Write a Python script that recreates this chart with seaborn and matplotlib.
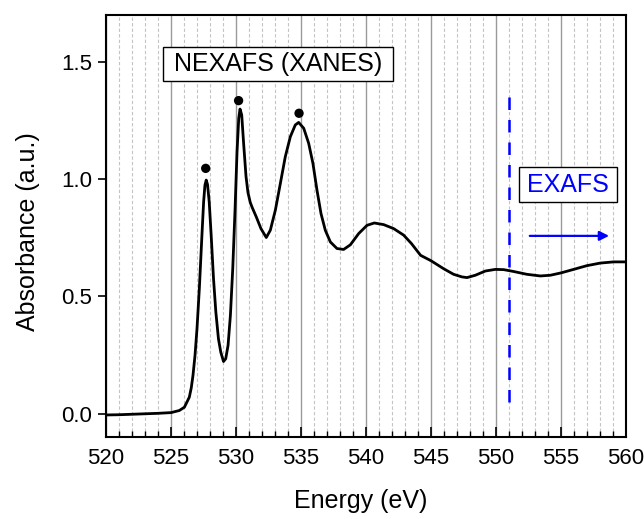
import matplotlib
matplotlib.use("Agg")
import matplotlib.pyplot as plt
import seaborn as sns
import pandas as pd
from matplotlib.patches import Rectangle
from matplotlib.ticker import MultipleLocator, FormatStrFormatter

# O K-edge absorption spectrum (energy in eV, absorbance in a.u.)
energy = [520.0, 521.0, 522.0, 523.0, 524.0, 525.0, 525.64, 526.03, 526.41, 526.56,
          526.69, 526.85, 527.0, 527.18, 527.38, 527.51, 527.61, 527.71, 527.81, 527.94,
          528.09, 528.27, 528.45, 528.65, 528.83, 529.04, 529.21, 529.39, 529.57, 529.75,
          529.93, 530.08, 530.21, 530.31, 530.44, 530.59, 530.77, 530.92, 531.1, 531.27,
          531.56, 531.92, 532.33, 532.64, 533.03, 533.41, 533.79, 534.18, 534.56, 534.82,
          535.21, 535.59, 535.92, 536.23, 536.54, 536.87, 537.26, 537.77, 538.28, 538.8,
          539.44, 540.08, 540.64, 541.36, 542.13, 542.9, 543.5, 544.2, 545.0, 545.97,
          546.74, 547.38, 547.77, 548.41, 549.18, 549.95, 550.59, 551.36, 552.38, 553.41,
          554.18, 555.0, 555.97, 557.0, 558.03, 559.05, 560.0]
absorbance = [-0.006, -0.005, -0.003, -0.001, 0.001, 0.004, 0.013, 0.027, 0.07, 0.11,
              0.162, 0.25, 0.362, 0.533, 0.761, 0.903, 0.974, 0.996, 0.977, 0.903,
              0.761, 0.576, 0.433, 0.319, 0.262, 0.222, 0.234, 0.291, 0.419, 0.618,
              0.875, 1.117, 1.259, 1.299, 1.274, 1.150, 1.012, 0.943, 0.90, 0.876,
              0.839, 0.789, 0.751, 0.782, 0.868, 0.981, 1.095, 1.181, 1.231, 1.242,
              1.217, 1.153, 1.067, 0.953, 0.853, 0.782, 0.732, 0.704, 0.700, 0.720,
              0.768, 0.803, 0.813, 0.806, 0.789, 0.761, 0.725, 0.675, 0.652, 0.618,
              0.594, 0.583, 0.580, 0.590, 0.608, 0.615, 0.614, 0.606, 0.594, 0.587,
              0.590, 0.600, 0.615, 0.631, 0.642, 0.647, 0.647]

# Marked resonance peaks
peak_energy = [527.67, 530.2, 534.85]
peak_height = [1.046, 1.335, 1.281]

# Boundary between the near-edge and extended regions
edge_split = 551.0

sns.set_theme(style="ticks")
plt.rcParams["font.family"] = ["Liberation Sans", "DejaVu Sans"]
plt.rcParams.update({"text.color": "black", "axes.labelcolor": "black",
                     "xtick.color": "black", "ytick.color": "black"})

spectrum = pd.DataFrame({"Energy": energy, "Absorbance": absorbance})
peaks = pd.DataFrame({"Energy": peak_energy, "Absorbance": peak_height})

fig = plt.figure(figsize=(6.44, 5.19), dpi=100)
ax = fig.add_axes([0.1646, 0.158, 0.8074, 0.813])

sns.lineplot(data=spectrum, x="Energy", y="Absorbance", ax=ax, color="black",
             linewidth=2.0, sort=False, zorder=3, solid_joinstyle="round",
             solid_capstyle="round")
sns.scatterplot(data=peaks, x="Energy", y="Absorbance", ax=ax, color="black",
                s=45, edgecolor="none", zorder=4)

ax.vlines(edge_split, 0.05, 1.37, colors="#0000FF", linestyles=(0, (5, 4)),
          linewidth=1.8, zorder=3)
ax.annotate("", xy=(558.7, 0.758), xytext=(552.6, 0.758),
            arrowprops=dict(arrowstyle="-|>", color="#0000FF", lw=1.6,
                            mutation_scale=14, shrinkA=0, shrinkB=0))

# Framed region labels
ax.add_patch(Rectangle((524.38, 1.419), 17.70, 0.145, facecolor="white",
                       edgecolor="black", linewidth=1.0, zorder=5))
ax.text(533.23, 1.4915, "NEXAFS (XANES)", fontsize=18, ha="center",
        va="center", zorder=6)
ax.add_patch(Rectangle((551.77, 0.902), 7.54, 0.149, facecolor="white",
                       edgecolor="black", linewidth=1.0, zorder=5))
ax.text(555.54, 0.9765, "EXAFS", fontsize=18, color="#0000FF", ha="center",
        va="center", zorder=6)

ax.set_xlim(520, 560)
ax.set_ylim(-0.10, 1.70)
ax.xaxis.set_major_locator(MultipleLocator(5))
ax.xaxis.set_minor_locator(MultipleLocator(1))
ax.yaxis.set_major_locator(MultipleLocator(0.5))
ax.yaxis.set_major_formatter(FormatStrFormatter("%.1f"))

ax.grid(False)
ax.xaxis.grid(True, which="major", color="#9a9a9a", linestyle="-", linewidth=1.0)
ax.xaxis.grid(True, which="minor", color="#c4c4c4", linestyle=(0, (3, 2)),
              linewidth=0.8)
ax.set_axisbelow(True)

ax.tick_params(axis="x", which="major", direction="in", length=7, width=1.2,
               labelsize=16, pad=8, top=False)
ax.tick_params(axis="x", which="minor", direction="in", length=4, width=1.0,
               top=False)
ax.tick_params(axis="y", which="major", direction="out", length=6, width=1.2,
               labelsize=16, pad=4, right=False)

for side in ["left", "right", "top", "bottom"]:
    ax.spines[side].set_visible(True)
    ax.spines[side].set_color("black")
    ax.spines[side].set_linewidth(1.5)

ax.set_xlabel("Energy (eV)", fontsize=18, labelpad=14)
ax.set_ylabel("Absorbance (a.u.)", fontsize=18, labelpad=15)
ax.xaxis.label.set_x(0.49)
ax.yaxis.label.set_y(0.486)

fig.savefig("out.png", dpi=100, facecolor="white")
